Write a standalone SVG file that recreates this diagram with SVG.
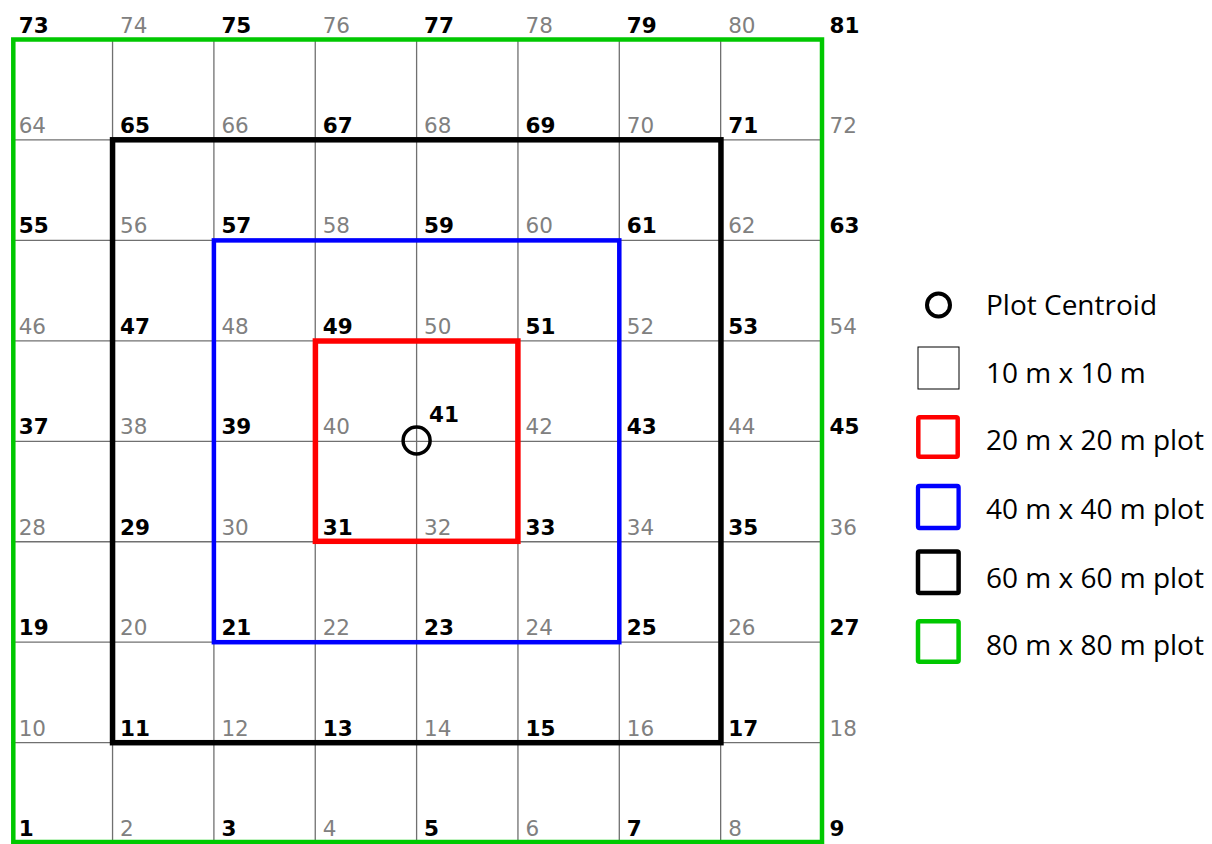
<svg xmlns="http://www.w3.org/2000/svg" width="1212" height="844" viewBox="0 0 1212 844">
<style>
.b{font-family:"DejaVu Sans",sans-serif;font-weight:bold;font-size:21.5px;fill:#000}
.g{font-family:"DejaVu Sans",sans-serif;font-size:21.5px;fill:#808080}
.lg{font-family:"Open Sans",sans-serif;font-size:28px;fill:#000}
.grid line{stroke:#707070;stroke-width:1.3}
.plot{fill:none;stroke-linejoin:miter}
</style>
<rect width="1212" height="844" fill="#fff"/>
<g id="grid" class="grid">
<line x1="112.55" y1="39.5" x2="112.55" y2="843"/>
<line x1="213.9" y1="39.5" x2="213.9" y2="843"/>
<line x1="315.25" y1="39.5" x2="315.25" y2="843"/>
<line x1="416.6" y1="39.5" x2="416.6" y2="843"/>
<line x1="517.95" y1="39.5" x2="517.95" y2="843"/>
<line x1="619.3" y1="39.5" x2="619.3" y2="843"/>
<line x1="720.65" y1="39.5" x2="720.65" y2="843"/>
<line x1="11.2" y1="139.95" x2="822" y2="139.95"/>
<line x1="11.2" y1="240.4" x2="822" y2="240.4"/>
<line x1="11.2" y1="340.85" x2="822" y2="340.85"/>
<line x1="11.2" y1="441.3" x2="822" y2="441.3"/>
<line x1="11.2" y1="541.75" x2="822" y2="541.75"/>
<line x1="11.2" y1="642.2" x2="822" y2="642.2"/>
<line x1="11.2" y1="742.65" x2="822" y2="742.65"/>
</g>
<g id="plot-80">
<rect class="plot" x="13.3" y="39.5" width="808.7" height="802.5" stroke="#00c800" stroke-width="4.5"/>
</g>
<g id="plot-60">
<rect class="plot" x="112.55" y="139.8" width="608.4" height="602.9" stroke="#000" stroke-width="5.5"/>
</g>
<g id="plot-40">
<rect class="plot" x="213.9" y="240.4" width="405.4" height="401.8" stroke="#0000ff" stroke-width="4.5"/>
</g>
<g id="plot-20">
<rect class="plot" x="315.4" y="341" width="202.5" height="200.3" stroke="#ff0000" stroke-width="5.5"/>
</g>
<g id="centroid">
<circle cx="416.6" cy="440.5" r="13.5" fill="none" stroke="#000" stroke-width="3.5"/>
</g>
<g id="labels">
<text class="b" x="18.7" y="32.5">73</text><text class="g" x="120" y="32.5">74</text><text class="b" x="221.4" y="32.5">75</text><text class="g" x="322.7" y="32.5">76</text><text class="b" x="424.1" y="32.5">77</text><text class="g" x="525.5" y="32.5">78</text><text class="b" x="626.8" y="32.5">79</text><text class="g" x="728.2" y="32.5">80</text><text class="b" x="829.5" y="32.5">81</text>
<text class="g" x="18.7" y="133">64</text><text class="b" x="120" y="133">65</text><text class="g" x="221.4" y="133">66</text><text class="b" x="322.7" y="133">67</text><text class="g" x="424.1" y="133">68</text><text class="b" x="525.5" y="133">69</text><text class="g" x="626.8" y="133">70</text><text class="b" x="728.2" y="133">71</text><text class="g" x="829.5" y="133">72</text>
<text class="b" x="18.7" y="233.4">55</text><text class="g" x="120" y="233.4">56</text><text class="b" x="221.4" y="233.4">57</text><text class="g" x="322.7" y="233.4">58</text><text class="b" x="424.1" y="233.4">59</text><text class="g" x="525.5" y="233.4">60</text><text class="b" x="626.8" y="233.4">61</text><text class="g" x="728.2" y="233.4">62</text><text class="b" x="829.5" y="233.4">63</text>
<text class="g" x="18.7" y="333.9">46</text><text class="b" x="120" y="333.9">47</text><text class="g" x="221.4" y="333.9">48</text><text class="b" x="322.7" y="333.9">49</text><text class="g" x="424.1" y="333.9">50</text><text class="b" x="525.5" y="333.9">51</text><text class="g" x="626.8" y="333.9">52</text><text class="b" x="728.2" y="333.9">53</text><text class="g" x="829.5" y="333.9">54</text>
<text class="b" x="18.7" y="434.3">37</text><text class="g" x="120" y="434.3">38</text><text class="b" x="221.4" y="434.3">39</text><text class="g" x="322.7" y="434.3">40</text><text class="b" x="429" y="422">41</text><text class="g" x="525.5" y="434.3">42</text><text class="b" x="626.8" y="434.3">43</text><text class="g" x="728.2" y="434.3">44</text><text class="b" x="829.5" y="434.3">45</text>
<text class="g" x="18.7" y="534.8">28</text><text class="b" x="120" y="534.8">29</text><text class="g" x="221.4" y="534.8">30</text><text class="b" x="322.7" y="534.8">31</text><text class="g" x="424.1" y="534.8">32</text><text class="b" x="525.5" y="534.8">33</text><text class="g" x="626.8" y="534.8">34</text><text class="b" x="728.2" y="534.8">35</text><text class="g" x="829.5" y="534.8">36</text>
<text class="b" x="18.7" y="635.2">19</text><text class="g" x="120" y="635.2">20</text><text class="b" x="221.4" y="635.2">21</text><text class="g" x="322.7" y="635.2">22</text><text class="b" x="424.1" y="635.2">23</text><text class="g" x="525.5" y="635.2">24</text><text class="b" x="626.8" y="635.2">25</text><text class="g" x="728.2" y="635.2">26</text><text class="b" x="829.5" y="635.2">27</text>
<text class="g" x="18.7" y="735.7">10</text><text class="b" x="120" y="735.7">11</text><text class="g" x="221.4" y="735.7">12</text><text class="b" x="322.7" y="735.7">13</text><text class="g" x="424.1" y="735.7">14</text><text class="b" x="525.5" y="735.7">15</text><text class="g" x="626.8" y="735.7">16</text><text class="b" x="728.2" y="735.7">17</text><text class="g" x="829.5" y="735.7">18</text>
<text class="b" x="18.7" y="836.1">1</text><text class="g" x="120" y="836.1">2</text><text class="b" x="221.4" y="836.1">3</text><text class="g" x="322.7" y="836.1">4</text><text class="b" x="424.1" y="836.1">5</text><text class="g" x="525.5" y="836.1">6</text><text class="b" x="626.8" y="836.1">7</text><text class="g" x="728.2" y="836.1">8</text><text class="b" x="829.5" y="836.1">9</text>
</g>
<g id="legend">
<g id="legend-centroid"><circle cx="938.5" cy="305" r="11.5" fill="none" stroke="#000" stroke-width="4"/><text class="lg" x="986" y="315">Plot Centroid</text></g>
<g id="legend-10"><rect x="918" y="347" width="41" height="42" fill="none" stroke="#000" stroke-width="1"/><text class="lg" x="986" y="383">10 m x 10 m</text></g>
<g id="legend-20"><rect x="918.3" y="417.3" width="39.4" height="39.4" rx="1.5" fill="none" stroke="#ff0000" stroke-width="4.5"/><text class="lg" x="986" y="450">20 m x 20 m plot</text></g>
<g id="legend-40"><rect x="918" y="486" width="40.6" height="42" rx="1.5" fill="none" stroke="#0000ff" stroke-width="4.3"/><text class="lg" x="986" y="519.3">40 m x 40 m plot</text></g>
<g id="legend-60"><rect x="918" y="551.5" width="40.6" height="41.5" rx="1.5" fill="none" stroke="#000" stroke-width="4.5"/><text class="lg" x="986" y="588.3">60 m x 60 m plot</text></g>
<g id="legend-80"><rect x="918" y="621.2" width="40.6" height="40.6" rx="1.5" fill="none" stroke="#00c800" stroke-width="4.5"/><text class="lg" x="986" y="655">80 m x 80 m plot</text></g>
</g>
</svg>
